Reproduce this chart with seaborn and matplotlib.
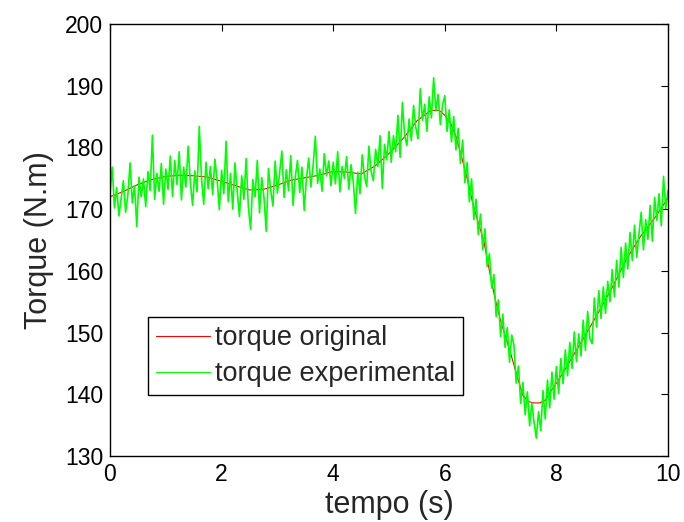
import numpy as np
import pandas as pd
import matplotlib
matplotlib.use("Agg")
import matplotlib.pyplot as plt
import seaborn as sns

# ---- data ----
t_orig = [0.0, 0.25, 0.5, 0.75, 1.0, 1.25, 1.5, 1.75, 2.0, 2.25, 2.5, 2.75, 3.0, 3.25,
          3.5, 3.75, 4.0, 4.25, 4.5, 4.75, 5.0, 5.25, 5.5, 5.75, 5.9, 6.0, 6.1, 6.2,
          6.3, 6.4, 6.5, 6.6, 6.7, 6.8, 6.9, 7.0, 7.1, 7.2, 7.3, 7.4, 7.5, 7.6, 7.7,
          7.8, 7.9, 8.0, 8.1, 8.25, 8.5, 8.75, 9.0, 9.25, 9.5, 9.75, 10.0]
torque_orig = [172.0, 172.9, 174.0, 174.8, 175.3, 175.5, 175.4, 175.2, 174.5, 173.8,
               173.1, 173.2, 173.9, 174.7, 175.1, 175.5, 176.1, 176.0, 175.7, 177.0,
               179.0, 181.4, 184.3, 186.0, 186.0, 185.2, 184.0, 181.8, 178.5, 175.0,
               171.0, 167.8, 164.8, 160.0, 155.5, 151.9, 149.0, 146.0, 142.8, 139.8,
               138.8, 138.6, 138.6, 139.0, 140.5, 141.8, 143.2, 145.5, 149.3, 153.2,
               157.3, 161.8, 165.5, 168.4, 171.8]

dt_exp = 0.04
torque_exp = [
    # 0 - 1 s
    172.5, 176.8, 170.2, 173.5, 168.9, 171.8, 174.6, 169.5, 172.3, 177.5, 171.0, 173.8, 167.2,
    175.2, 172.0, 174.9, 170.4, 176.1, 173.0, 182.0, 171.6, 175.8, 172.9, 177.4, 170.8,
    # 1 - 2 s
    176.5, 173.2, 178.6, 172.1, 177.9, 174.0, 179.3, 171.5, 176.8, 173.6, 180.2, 174.4, 170.6,
    176.2, 172.8, 183.4, 175.0, 170.8, 177.6, 173.3, 176.9, 172.4, 178.1, 174.7, 169.9,
    # 2 - 3 s
    176.3, 172.5, 181.0, 171.2, 175.8, 170.0, 177.5, 172.9, 168.8, 175.4, 171.6, 178.2, 170.3,
    166.7, 174.8, 172.0, 177.9, 169.4, 175.1, 171.8, 166.4, 176.6, 173.1, 170.5, 177.8,
    # 3 - 4 s
    172.6, 175.9, 179.4, 171.9, 176.4, 173.0, 178.7, 170.6, 175.2, 177.9, 172.7, 176.8, 169.8,
    174.9, 178.3, 173.6, 177.1, 181.8, 174.2, 176.5, 172.9, 179.0, 175.4, 177.8, 173.8,
    # 4 - 5 s
    177.6, 174.1, 179.3, 172.8, 176.9, 175.0, 178.5, 173.2, 177.2, 174.4, 169.3, 176.0, 172.5,
    178.8, 175.3, 173.7, 180.2, 176.1, 174.6, 179.7, 176.9, 181.9, 173.4, 180.5, 178.0,
    # 5 - 6 s
    182.6, 177.6, 181.9, 179.3, 185.2, 178.4, 187.3, 182.0, 180.3, 184.6, 181.1, 186.8, 183.2,
    181.4, 189.5, 184.4, 187.0, 182.6, 188.2, 184.8, 191.3, 185.9, 188.6, 183.7, 186.9,
    # 6 - 7 s
    188.4, 182.6, 186.1, 180.9, 185.0, 179.6, 183.1, 177.4, 181.2, 174.3, 177.6, 171.2, 174.9,
    168.3, 171.6, 165.9, 169.2, 163.4, 166.8, 160.7, 162.8, 157.2, 159.4, 152.6, 155.3,
    # 7 - 8 s
    149.4, 153.0, 147.6, 150.8, 145.2, 149.6, 147.9, 141.8, 144.6, 138.5, 141.9, 136.7, 140.4,
    134.9, 138.6, 135.4, 132.9, 137.2, 134.1, 140.6, 136.0, 142.3, 137.8, 143.6, 139.2,
    # 8 - 9 s
    144.5, 140.1, 145.8, 141.7, 147.2, 143.0, 148.4, 144.2, 150.1, 145.3, 149.8, 146.2, 152.0,
    147.1, 153.4, 149.0, 148.2, 155.6, 150.9, 156.8, 152.3, 157.4, 153.1, 158.3, 155.0,
    # 9 - 10 s
    160.2, 155.8, 161.7, 157.4, 163.8, 158.9, 164.5, 160.3, 166.2, 161.7, 167.4, 162.2, 166.0,
    169.5, 163.4, 168.3, 165.1, 170.6, 164.8, 171.9, 168.2, 172.5, 167.3, 175.3, 170.1,
    173.0,
]
t_exp = np.round(np.arange(len(torque_exp)) * dt_exp, 2)

x_ticks = [0, 2, 4, 6, 8, 10]
y_ticks = [130, 140, 150, 160, 170, 180, 190, 200]
xlabel_text = "tempo (s)"
ylabel_text = "Torque (N.m)"
label_orig = "torque original"
label_exp = "torque experimental"

# ---- style ----
sns.set_style("white")
plt.rcParams["font.family"] = ["Liberation Sans", "DejaVu Sans"]

fig = plt.figure(figsize=(6.84, 5.22), dpi=100)
ax = fig.add_axes([110 / 684, 66 / 522, 558 / 684, 432 / 522])

df_orig = pd.DataFrame({"t": t_orig, "torque": torque_orig})
df_exp = pd.DataFrame({"t": t_exp, "torque": torque_exp})

sns.lineplot(data=df_orig, x="t", y="torque", color=(1, 0, 0), linewidth=0.8,
             label=label_orig, ax=ax, estimator=None)
sns.lineplot(data=df_exp, x="t", y="torque", color=(0, 1, 0), linewidth=1.2,
             label=label_exp, ax=ax, estimator=None)

ax.set_xlim(0, 10)
ax.set_ylim(130, 200)
ax.set_xticks(x_ticks)
ax.set_yticks(y_ticks)
ax.set_xticklabels([str(v) for v in x_ticks])
ax.set_yticklabels([str(v) for v in y_ticks])
ax.tick_params(direction="in", length=5, width=0.8, colors="black",
               labelsize=16.5, top=True, right=True, pad=5)
for s in ax.spines.values():
    s.set_visible(True)
    s.set_color("black")
    s.set_linewidth(1.0)

ax.set_xlabel(xlabel_text, fontsize=22, labelpad=3)
ax.set_ylabel(ylabel_text, fontsize=22, labelpad=8)

leg = ax.legend(loc="upper left", bbox_to_anchor=(0.068, 0.322), borderaxespad=0,
                fontsize=19.5, frameon=True, fancybox=False, framealpha=1,
                edgecolor="black", handlelength=2.0, handletextpad=0.18,
                borderpad=0.3, labelspacing=0.38)
leg.get_frame().set_linewidth(1.0)
for line in leg.get_lines():
    line.set_linewidth(0.8)

fig.savefig("out.png", dpi=100)
